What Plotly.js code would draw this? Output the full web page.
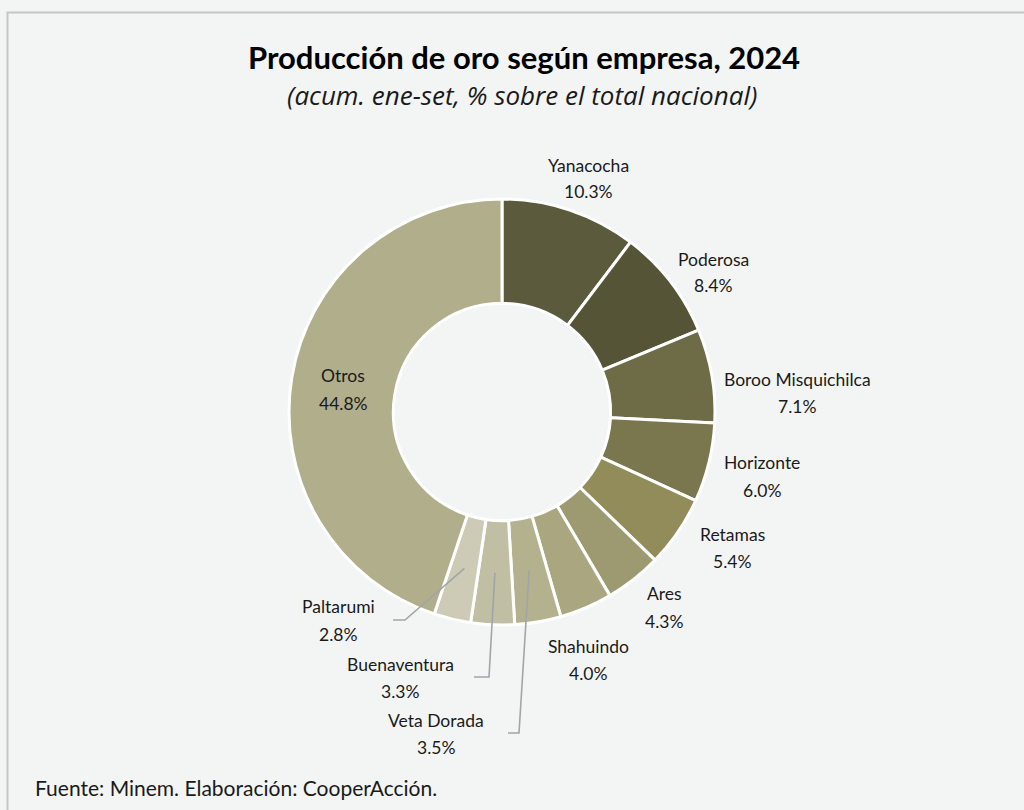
<!DOCTYPE html>
<html>
<head>
<meta charset="utf-8">
<script src="https://cdn.plot.ly/plotly-3.0.1.min.js"></script>
<style>html,body{margin:0;padding:0;background:#f3f5f4;}#chart{width:1024px;height:810px;}</style>
</head>
<body>
<div id="chart"></div>
<script>
// ---- data ----
var companies = ["Yanacocha","Poderosa","Boroo Misquichilca","Horizonte","Retamas","Ares","Shahuindo","Veta Dorada","Buenaventura","Paltarumi","Otros"];
var shares = [10.3, 8.4, 7.1, 6.0, 5.4, 4.3, 4.0, 3.5, 3.3, 2.8, 44.8];
var sliceColors = ["#5c5a3d","#565437","#6e6b47","#7a774f","#928c5b","#9d9a72","#aaa780","#b4b18f","#c1bfa3","#cdcbb6","#b1ae8c"];

// ---- layout helpers (pixel geometry) ----
var W = 1024, H = 810;
var CX = 502, CY = 412, R = 213, HOLE = 0.51;
function px(x){ return x / W; }
function py(y){ return 1 - y / H; }

// label placement (pixel centres of name line / value line)
var labelX   = [588, 713, 797, 762, 732, 664, 588, 436, 400, 338, 343];
var nameY    = [165, 259, 379, 462, 534, 593, 646, 720, 664, 606, 376];
var valueY   = [191, 285, 406, 490, 561, 621, 673, 747, 691, 634, 403];
// leader lines: [elbowX, elbowY, endX] or null
var leaders = [null,null,null,null,null,null,null,[519,733,508],[489,677,474],[405,620,393],null];

var labelFont = {family:"Lato, sans-serif", size:17.5, color:"#1a1a1a"};
var annotations = [];
var shapes = [];

// frame
shapes.push({type:"rect", xref:"paper", yref:"paper", x0:px(7.5), x1:1.05, y0:py(12.5), y1:-0.05,
  line:{color:"#c6c6c6", width:2}, fillcolor:"rgba(0,0,0,0)", layer:"below"});

var total = shares.reduce(function(a,b){return a+b;},0);
var cum = 0;
for (var i = 0; i < companies.length; i++) {
  var mid = (cum + shares[i]/2) / total * 2 * Math.PI;
  cum += shares[i];
  annotations.push({xref:"paper", yref:"paper", x:px(labelX[i]), y:py(nameY[i]), text:companies[i],
    showarrow:false, xanchor:"center", yanchor:"middle", font:labelFont});
  annotations.push({xref:"paper", yref:"paper", x:px(labelX[i]), y:py(valueY[i]), text:shares[i].toFixed(1)+"%",
    showarrow:false, xanchor:"center", yanchor:"middle", font:labelFont});
  if (leaders[i]) {
    var rm = R * (1 + HOLE) / 2;
    var sx = CX + rm * Math.sin(mid), sy = CY - rm * Math.cos(mid);
    var L = leaders[i];
    shapes.push({type:"path", xref:"paper", yref:"paper",
      path:"M "+px(sx)+","+py(sy)+" L "+px(L[0])+","+py(L[1])+" L "+px(L[2])+","+py(L[1]),
      line:{color:"#a2a5a8", width:1.6}});
  }
}

// titles and source
annotations.push({xref:"paper", yref:"paper", x:px(524), y:py(57), text:"<b>Producción de oro según empresa, 2024</b>",
  showarrow:false, xanchor:"center", yanchor:"middle", font:{family:"Lato, sans-serif", size:31, color:"#000000"}});
annotations.push({xref:"paper", yref:"paper", x:px(522), y:py(95), text:"<i>(acum. ene-set, % sobre el total nacional)</i>",
  showarrow:false, xanchor:"center", yanchor:"middle", font:{family:"Open Sans, sans-serif", size:26, color:"#1a1a1a"}});
annotations.push({xref:"paper", yref:"paper", x:px(33), y:py(787), text:"Fuente: Minem. Elaboración: CooperAcción.",
  showarrow:false, xanchor:"left", yanchor:"middle", font:{family:"Lato, sans-serif", size:21, color:"#1a1a1a"}});

var trace = {
  type:"pie",
  labels: companies,
  values: shares,
  sort:false,
  direction:"clockwise",
  rotation:0,
  hole: HOLE,
  textinfo:"none",
  hoverinfo:"label+value",
  marker:{colors: sliceColors, line:{color:"#ffffff", width:3}},
  domain:{x:[px(CX-R), px(CX+R)], y:[py(CY+R), py(CY-R)]},
  showlegend:false
};

var layout = {
  width:W, height:H,
  margin:{l:0,r:0,t:0,b:0},
  paper_bgcolor:"#f3f5f4",
  plot_bgcolor:"#f3f5f4",
  showlegend:false,
  annotations: annotations,
  shapes: shapes
};

Plotly.newPlot("chart", [trace], layout, {displayModeBar:false, staticPlot:true});
</script>
</body>
</html>
